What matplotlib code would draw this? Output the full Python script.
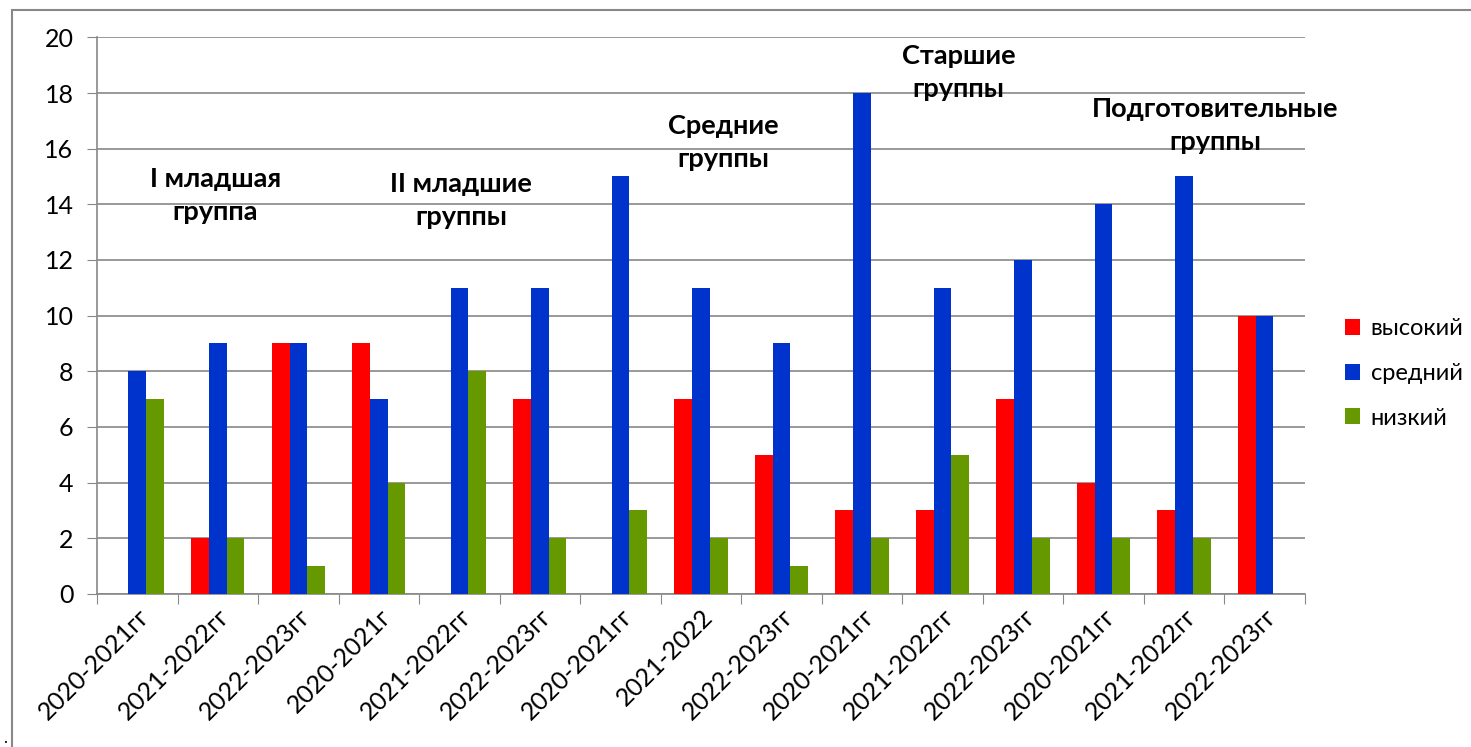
import matplotlib.pyplot as plt
import numpy as np
from matplotlib.patches import Rectangle

categories = ["2020-2021гг", "2021-2022гг", "2022-2023гг",
              "2020-2021г", "2021-2022гг", "2022-2023гг",
              "2020-2021гг", "2021-2022", "2022-2023гг",
              "2020-2021гг", "2021-2022гг", "2022-2023гг",
              "2020-2021гг", "2021-2022гг", "2022-2023гг"]
high = [0, 2, 9, 9, 0, 7, 0, 7, 5, 3, 3, 7, 4, 3, 10]
mid = [8, 9, 9, 7, 11, 11, 15, 11, 9, 18, 11, 12, 14, 15, 10]
low = [7, 2, 1, 4, 8, 2, 3, 2, 1, 2, 5, 2, 2, 2, 0]
series_names = ["высокий", "средний", "низкий"]
group_labels = ["I младшая\nгруппа", "II младшие\nгруппы", "Средние\nгруппы",
                "Старшие\nгруппы", "Подготовительные\nгруппы"]
group_label_pos = [(0.97, 14.3), (4.02, 14.15), (7.28, 16.23), (10.2, 18.73), (13.39, 16.82)]

plt.rcParams['font.family'] = ['Lato', 'DejaVu Sans']

fig = plt.figure(figsize=(14.71, 7.47), dpi=100)
ax = fig.add_axes([0.066, 0.205, 0.821, 0.745])

x = np.arange(len(categories))
w = 0.22
colors = ["#FF0000", "#0033CC", "#669900"]
for i, (vals, name) in enumerate(zip([high, mid, low], series_names)):
    ax.bar(x + (i - 1) * w, vals, width=w, color=colors[i], label=name, zorder=3)

ax.set_xlim(-0.5, len(categories) - 0.5)
ax.set_ylim(0, 20)
ax.set_yticks(range(0, 21, 2))
ax.set_xticks(np.arange(-0.5, len(categories), 1), minor=False, labels=[])
ax.set_xticks(x, minor=True, labels=categories)
ax.tick_params(axis='x', which='minor', length=0, labelsize=18, pad=8)
ax.tick_params(axis='x', which='major', length=7, color='#888888')
ax.tick_params(axis='y', length=7, color='#888888', labelsize=18, pad=10)
for lbl in ax.get_xticklabels(minor=True):
    lbl.set_rotation(45)
    lbl.set_ha('right')
    lbl.set_rotation_mode('anchor')

ax.grid(axis='y', color='#888888', linewidth=1.2, zorder=0)
for s in ['top', 'right']:
    ax.spines[s].set_visible(False)
for s in ['left', 'bottom']:
    ax.spines[s].set_color('#888888')
    ax.spines[s].set_linewidth(1.2)

for txt, (gx, gy) in zip(group_labels, group_label_pos):
    ax.text(gx, gy, txt, ha='center', va='center', fontsize=19.5, fontweight='bold',
            linespacing=1.45)

ax.legend(loc='center left', bbox_to_anchor=(0.906, 0.5), bbox_transform=fig.transFigure,
          frameon=False, fontsize=17, handlelength=0.65, handleheight=0.65,
          handletextpad=0.45, labelspacing=1.0, borderpad=0)

# outer frame of the chart
fig.add_artist(Rectangle((12 / 1471, -0.1), 1.2, 1 - 10 / 747 + 0.1,
                         transform=fig.transFigure, fill=False,
                         edgecolor='#888888', linewidth=1.5))
fig.text(3 / 1471, 1 - 738 / 747, ".", fontsize=12, va='center')

fig.savefig("out.png", dpi=100)
